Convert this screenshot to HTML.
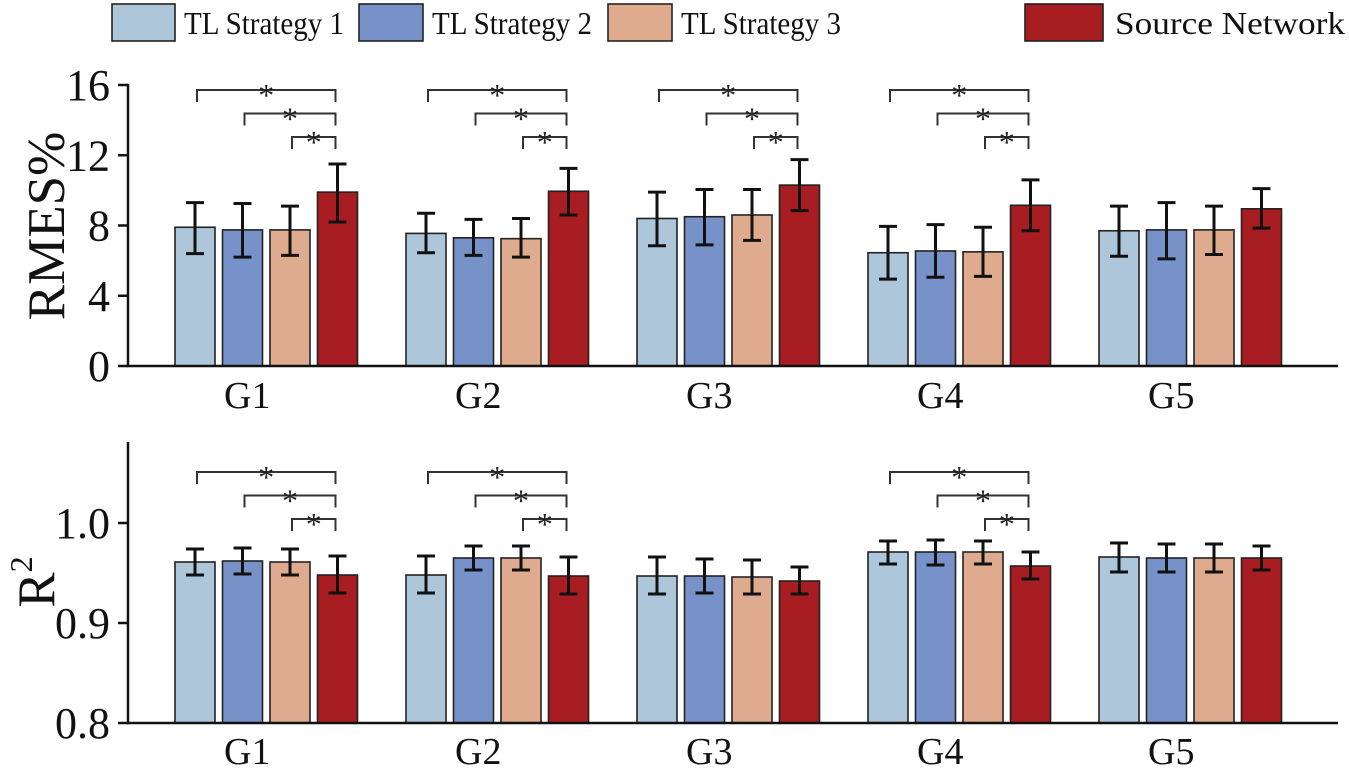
<!DOCTYPE html>
<html><head><meta charset="utf-8"><style>
html,body{margin:0;padding:0;background:#fff;}
svg{display:block;font-family:"Liberation Serif",serif;}
</style></head><body>
<svg id="chart" width="1349" height="770" viewBox="0 0 1349 770"></svg>
<script>
const groups=["G1","G2","G3","G4","G5"];
const seriesNames=["TL Strategy 1","TL Strategy 2","TL Strategy 3","Source Network"];
const colors=["#adc6da","#7792c9","#dfab8e","#a81d22"];
const rmseMean=[[7.9,7.55,8.4,6.45,7.7],[7.75,7.3,8.5,6.55,7.75],[7.75,7.25,8.6,6.5,7.75],[9.9,9.95,10.3,9.15,8.95]];
const rmseLow=[[6.4,6.45,6.85,4.95,6.25],[6.2,6.3,6.9,5.05,6.1],[6.3,6.2,7.15,5.1,6.35],[8.2,8.6,8.85,7.7,7.85]];
const rmseHigh=[[9.3,8.7,9.9,7.95,9.1],[9.25,8.35,10.05,8.05,9.3],[9.1,8.4,10.05,7.9,9.1],[11.5,11.25,11.75,10.6,10.1]];
const r2Mean=[[0.961,0.948,0.947,0.971,0.966],[0.962,0.965,0.947,0.971,0.965],[0.961,0.965,0.946,0.971,0.965],[0.948,0.947,0.942,0.957,0.965]];
const r2Low=[[0.948,0.930,0.929,0.959,0.951],[0.949,0.953,0.930,0.958,0.951],[0.948,0.953,0.929,0.959,0.951],[0.930,0.929,0.929,0.944,0.953]];
const r2High=[[0.974,0.967,0.966,0.982,0.980],[0.975,0.977,0.964,0.983,0.979],[0.974,0.977,0.963,0.982,0.979],[0.967,0.966,0.956,0.971,0.977]];
const rmseTicks=[0,4,8,12,16];
const r2Ticks=[0.8,0.9,1.0];
const rmseSigGroups=[0,1,2,3];
const r2SigGroups=[0,1,3];
const NS="http://www.w3.org/2000/svg";
const svg=document.getElementById('chart');
function mk(tag,attrs,parent,text){const e=document.createElementNS(NS,tag);for(const k in attrs)e.setAttribute(k,attrs[k]);if(text!==undefined)e.textContent=text;(parent||svg).appendChild(e);return e;}
const groupStart=175, groupStep=231, barStep=47.5, barW=40;
function xBar(g,s){return groupStart+g*groupStep+s*barStep;}
function xCenter(g,s){return xBar(g,s)+barW/2;}
function drawPanel(name,yScale,ticks,fmt,means,lows,highs,sig,bracketTop,axisTop,axisBottom,labelY){
  const p=mk('g',{},svg);
  
  for(let s=0;s<4;s++)for(let g=0;g<5;g++){
    const x=xBar(g,s),y=yScale(means[s][g]);
    const r=mk('rect',{x:x,y:y,width:barW,height:axisBottom-y,fill:colors[s],stroke:'#222','stroke-width':1.6},p);
    
    const cx=xCenter(g,s),yl=yScale(lows[s][g]),yh=yScale(highs[s][g]);
    const eb=mk('path',{d:`M${cx},${yl}V${yh}M${cx-9},${yh}H${cx+9}M${cx-9},${yl}H${cx+9}`,stroke:'#111','stroke-width':3,fill:'none'},p);
    
  }
  sig.forEach(g=>{
    for(let i=0;i<3;i++){
      const y=bracketTop+i*23.5,x1=xCenter(g,i)+2,x2=xCenter(g,3)-2;
      const b=mk('path',{d:`M${x1},${y+12}V${y}H${x2}V${y+12}`,stroke:'#333','stroke-width':2,fill:'none'},p);
      
      const t=mk('text',{x:(x1+x2)/2,y:y+16,'font-size':32,'text-anchor':'middle',fill:'#222'},p,'*');
      
    }
  });
  const ax=mk('path',{d:`M128,${axisTop}V${axisBottom}H1338`,stroke:'#111','stroke-width':2.5,fill:'none'},p);
  
  ticks.forEach(v=>{
    const y=yScale(v);
    mk('line',{x1:118,x2:128,y1:y,y2:y,stroke:'#111','stroke-width':2.5},p);
    const t=mk('text',{x:110,y:y+15,'font-size':44,'text-anchor':'end',fill:'#111'},p,fmt(v));
    
  });
  groups.forEach((gn,g)=>{
    const t=mk('text',{x:(xBar(g,0)+xBar(g,3)+barW)/2-19,y:labelY,'font-size':38,'text-anchor':'middle',fill:'#111'},p,gn);
    
  });
}
const yTop=v=>366-v*(281/16);
const yBot=v=>723-(v-0.8)*1000;
drawPanel('rmse',yTop,rmseTicks,v=>String(v),rmseMean,rmseLow,rmseHigh,rmseSigGroups,90,84,366,408);
drawPanel('r2',yBot,r2Ticks,v=>v.toFixed(1),r2Mean,r2Low,r2High,r2SigGroups,472,442,723,764);
const yl1=mk('text',{x:0,y:0,'font-size':53,'text-anchor':'middle',transform:'translate(64,226) rotate(-90)',fill:'#111'},svg,'RMES%');

const yl2=mk('text',{x:0,y:0,'font-size':53,'text-anchor':'middle',transform:'translate(54,582) rotate(-90)',fill:'#111'},svg);

yl2.innerHTML='R<tspan font-size="32" dy="-22">2</tspan>';
const legBox=[[112,63],[359,64],[608,64],[1025,78]];
const legText=[184,432,681,1115];
seriesNames.forEach((n,i)=>{
  const r=mk('rect',{x:legBox[i][0],y:4,width:legBox[i][1],height:37,fill:colors[i],stroke:'#222','stroke-width':1.6});
  
  const t=mk('text',{x:legText[i],y:34,'font-size':32,fill:'#111',textLength:(i==3?230:160),lengthAdjust:'spacingAndGlyphs'},svg,n);
  
});
</script>
</body></html>
